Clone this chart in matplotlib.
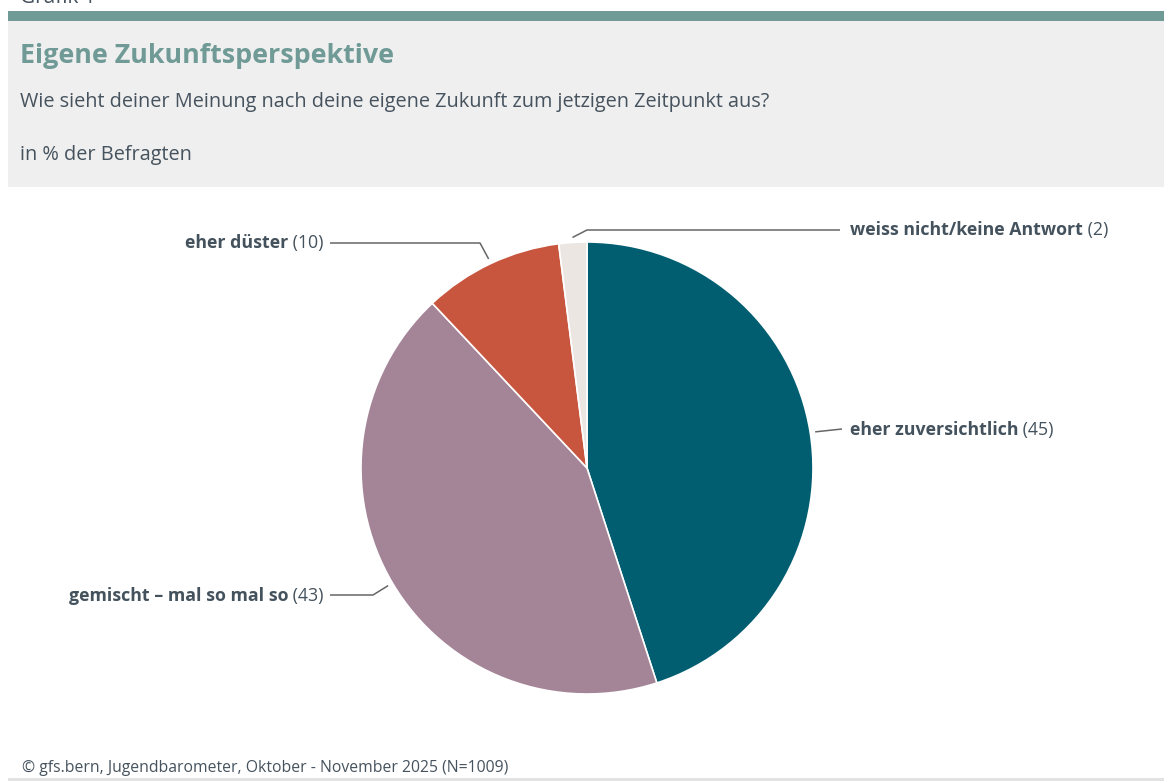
import numpy as np
import matplotlib
matplotlib.use("Agg")
import matplotlib.pyplot as plt
from matplotlib.patches import Rectangle

plt.rcParams['font.family'] = ['Open Sans', 'DejaVu Sans']

# ---- data ----
categories = ["eher zuversichtlich", "gemischt – mal so mal so", "eher düster", "weiss nicht/keine Antwort"]
values = [45, 43, 10, 2]
colors = ["#015e71", "#a48497", "#c8553d", "#ece6e3"]

title = "Eigene Zukunftsperspektive"
subtitle = "Wie sieht deiner Meinung nach deine eigene Zukunft zum jetzigen Zeitpunkt aus?"
unit = "in % der Befragten"
source = "© gfs.bern, Jugendbarometer, Oktober - November 2025 (N=1009)"

W, H = 1164, 782
fig = plt.figure(figsize=(W / 100, H / 100), dpi=100)
ax = fig.add_axes([0, 0, 1, 1])
ax.set_xlim(0, W)
ax.set_ylim(0, H)
ax.set_aspect('equal')
ax.axis('off')

def Y(py):
    return H - py

text_dark = "#46535e"
teal_head = "#6f9a96"

# header
ax.add_patch(Rectangle((8, Y(187)), W - 8, 166, facecolor="#efefef", edgecolor='none', zorder=0))
ax.add_patch(Rectangle((8, Y(21)), W - 8, 10, facecolor=teal_head, edgecolor='none', zorder=1))
ax.add_patch(Rectangle((8, Y(781)), W - 8, 3, facecolor="#e3e3e3", edgecolor='none', zorder=1))

ax.text(20, Y(3), "Grafik 1", fontsize=15, color=text_dark, va='baseline', ha='left')
ax.text(20, Y(63), title, fontsize=19.4, fontweight='bold', color=teal_head, va='baseline', ha='left')
ax.text(20, Y(107), subtitle, fontsize=14.3, color=text_dark, va='baseline', ha='left')
ax.text(20, Y(160), unit, fontsize=14.3, color=text_dark, va='baseline', ha='left')
ax.text(22, Y(772), source, fontsize=11.3, color=text_dark, va='baseline', ha='left')

# pie
cx, cy, r = 587, Y(468), 226
wedges, _ = ax.pie(values, colors=colors, startangle=90, counterclock=False,
                   center=(cx, cy), radius=r, frame=True,
                   wedgeprops=dict(edgecolor='white', linewidth=1.2))
ax.set_xlim(0, W)
ax.set_ylim(0, H)
ax.axis('off')

# leader lines
total = float(sum(values))
cum = np.cumsum([0] + values)
mids = [(cum[i] + values[i] / 2) / total * 360 for i in range(len(values))]

def anchor(i, off=5):
    th = np.deg2rad(mids[i])
    return cx + (r + off) * np.sin(th), cy + (r + off) * np.cos(th)

line_col = "#666666"
# elbow / end positions (layout)
layout = {
    0: dict(pts=[(842, Y(429))], tx=850, ty=Y(430), side='right'),
    1: dict(pts=[(373, Y(595)), (330, Y(595))], tx=324, ty=Y(596), side='left'),
    2: dict(pts=[(480, Y(243)), (330, Y(243))], tx=324, ty=Y(243), side='left'),
    3: dict(pts=[(587, Y(230)), (840, Y(230))], tx=850, ty=Y(230), side='right'),
}

fig.canvas.draw()
renderer = fig.canvas.get_renderer()
lab_fs = 12.75
lab_col = "#44525d"
for i, cat in enumerate(categories):
    L = layout[i]
    ax_, ay_ = anchor(i)
    xs = [ax_] + [p[0] for p in L['pts']]
    ys = [ay_] + [p[1] for p in L['pts']]
    ax.plot(xs, ys, color=line_col, lw=1.1, solid_capstyle='butt')
    val = f" ({values[i]})"
    if L['side'] == 'right':
        t1 = ax.text(L['tx'], L['ty'], cat, fontsize=lab_fs, fontweight='bold', color=lab_col,
                     ha='left', va='center')
        bb = t1.get_window_extent(renderer)
        ax.text(bb.x1, L['ty'], val, fontsize=lab_fs, color=lab_col, ha='left', va='center')
    else:
        t2 = ax.text(L['tx'], L['ty'], val, fontsize=lab_fs, color=lab_col, ha='right', va='center')
        bb = t2.get_window_extent(renderer)
        ax.text(bb.x0, L['ty'], cat, fontsize=lab_fs, fontweight='bold', color=lab_col,
                ha='right', va='center')

fig.savefig("out.png", dpi=100)
